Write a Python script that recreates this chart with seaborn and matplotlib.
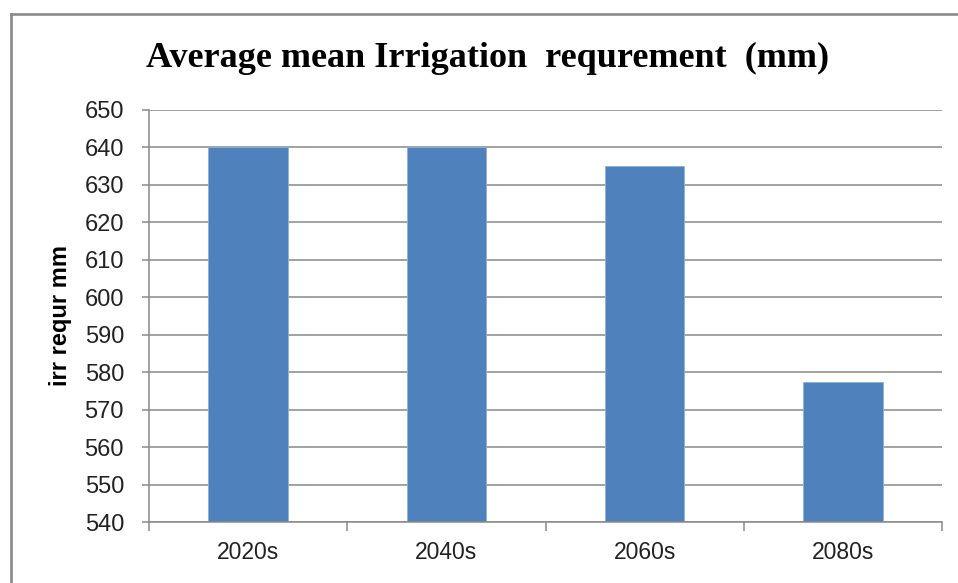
import matplotlib
matplotlib.use("Agg")
import matplotlib.pyplot as plt
from matplotlib.lines import Line2D
import seaborn as sns
import pandas as pd
import numpy as np

# Irrigation requirement by future period
periods = ["2020s", "2040s", "2060s", "2080s"]
irr_requirement = [640, 640, 635, 577.5]
y_ticks = [540, 550, 560, 570, 580, 590, 600, 610, 620, 630, 640, 650]

title = "Average mean Irrigation  requrement  (mm)"
y_label = "irr requr mm"

sns.set_theme(style="white")
plt.rcParams["font.family"] = ["Liberation Sans", "DejaVu Sans"]

W, H = 958, 583
fig = plt.figure(figsize=(W / 100, H / 100), dpi=100)
ax = fig.add_axes([149 / W, 1 - 522 / H, (942 - 149) / W, (522 - 110) / H])

df = pd.DataFrame({"period": periods, "value": irr_requirement})
sns.barplot(data=df, x="period", y="value", order=periods, color="#4F81BD",
            saturation=1, width=0.4, edgecolor="#8FB0DA", linewidth=0.6, ax=ax)

ax.set_ylim(y_ticks[0], y_ticks[-1])
ax.set_xlim(-0.5, len(periods) - 0.5)
ax.set_yticks(y_ticks)
ax.set_yticklabels([str(t) for t in y_ticks])

grid_c = "#898989"
ax.yaxis.grid(True, color=grid_c, linewidth=1.1)
ax.set_axisbelow(True)
for side in ("top", "right"):
    ax.spines[side].set_visible(False)
for side in ("left", "bottom"):
    ax.spines[side].set_color(grid_c)
    ax.spines[side].set_linewidth(1.1)

# category-boundary tick marks on the x axis
ax.set_xticks(np.arange(-0.5, len(periods)), minor=True)
ax.tick_params(axis="x", which="minor", length=6.5, width=1.1, color=grid_c, direction="out", bottom=True)
ax.tick_params(axis="x", which="major", length=0, pad=14, labelsize=16.5, labelcolor="#222222")
ax.tick_params(axis="y", which="major", length=5, width=1.1, color=grid_c, direction="out", left=True,
               pad=13, labelsize=17, labelcolor="#222222")

ax.set_xlabel("")
ax.set_ylabel("")
fig.text(60 / W, 1 - 316 / H, y_label, rotation=90, ha="center", va="center",
         fontsize=17, fontweight="bold", color="black")

fig.text(488 / W, 1 - 67 / H, title, ha="center", va="baseline",
         fontsize=26, fontweight="bold", family=["Liberation Serif", "DejaVu Serif"], color="black")

# outer chart frame
frame_c = "#8a8a8a"
fig.add_artist(Line2D([10.5 / W, 1.0], [1 - 13.5 / H, 1 - 13.5 / H], color=frame_c, linewidth=1.9,
                      transform=fig.transFigure, solid_capstyle="projecting"))
fig.add_artist(Line2D([10.5 / W, 10.5 / W], [0.0, 1 - 13.5 / H], color=frame_c, linewidth=1.9,
                      transform=fig.transFigure, solid_capstyle="projecting"))

fig.savefig("out.png", dpi=100, facecolor="white")
